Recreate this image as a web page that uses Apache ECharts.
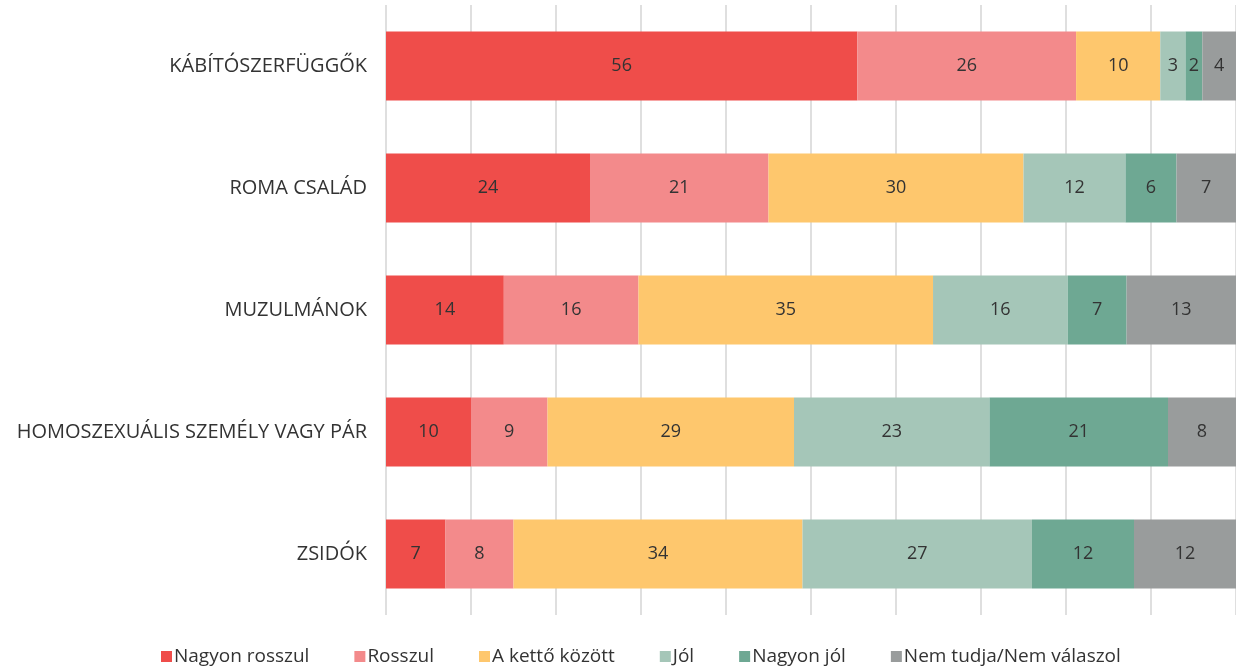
<!DOCTYPE html>
<html>
<head>
<meta charset="utf-8">
<script src="https://cdn.jsdelivr.net/npm/echarts@6/dist/echarts.min.js"></script>
<style>
  html,body{margin:0;padding:0;background:#fff;}
  #chart{width:1236px;height:671px;}
</style>
</head>
<body>
<div id="chart"></div>
<script>
  // categories top to bottom
  var categories = ['KÁBÍTÓSZERFÜGGŐK', 'ROMA CSALÁD', 'MUZULMÁNOK', 'HOMOSZEXUÁLIS SZEMÉLY VAGY PÁR', 'ZSIDÓK'];
  var seriesNames = ['Nagyon rosszul', 'Rosszul', 'A kettő között', 'Jól', 'Nagyon jól', 'Nem tudja/Nem válaszol'];
  var nagyonRosszul = [56, 24, 14, 10, 7];
  var rosszul = [26, 21, 16, 9, 8];
  var ketto = [10, 30, 35, 29, 34];
  var jol = [3, 12, 16, 23, 27];
  var nagyonJol = [2, 6, 7, 21, 12];
  var nemTudja = [4, 7, 13, 8, 12];
  var colors = ['#ef4d4a', '#f38a8b', '#fec76d', '#a5c6b8', '#6ea893', '#999c9c'];

  var allData = [nagyonRosszul, rosszul, ketto, jol, nagyonJol, nemTudja];
  // bars are drawn as shares of 100 (rounded labels can sum to 101)
  var totals = categories.map(function (c, i) {
    return allData.reduce(function (s, arr) { return s + arr[i]; }, 0);
  });

  var myChart = echarts.init(document.getElementById('chart'));
  var series = allData.map(function (arr, k) {
    return {
      name: seriesNames[k],
      type: 'bar',
      stack: 'total',
      barWidth: '56.5%',
      itemStyle: { color: colors[k] },
      label: {
        show: true,
        color: '#333',
        fontFamily: 'Open Sans',
        fontSize: 18,
        formatter: function (p) { return arr[p.dataIndex]; }
      },
      data: arr.map(function (v, i) { return v / totals[i] * 100; })
    };
  });

  var option = {
    animation: false,
    grid: { left: 386, right: 0, top: 5, bottom: 56 },
    legend: {
      bottom: 0,
      left: 156,
      icon: 'rect',
      itemWidth: 11,
      itemHeight: 11,
      itemGap: 45,
      textStyle: { fontFamily: 'Open Sans', fontSize: 19, color: '#333', padding: [0, 0, 0, -3] },
      data: seriesNames
    },
    xAxis: {
      type: 'value',
      min: 0,
      max: 100,
      interval: 10,
      axisLabel: { show: false },
      axisLine: { show: false },
      axisTick: { show: false },
      splitLine: { show: true, lineStyle: { color: '#d4d4d4', width: 1.5 } }
    },
    yAxis: {
      type: 'category',
      inverse: true,
      data: categories,
      axisLine: { show: false },
      axisTick: { show: false },
      axisLabel: { margin: 19, color: '#333', fontFamily: 'Open Sans', fontSize: 20 }
    },
    series: series
  };
  myChart.setOption(option);
</script>
</body>
</html>
